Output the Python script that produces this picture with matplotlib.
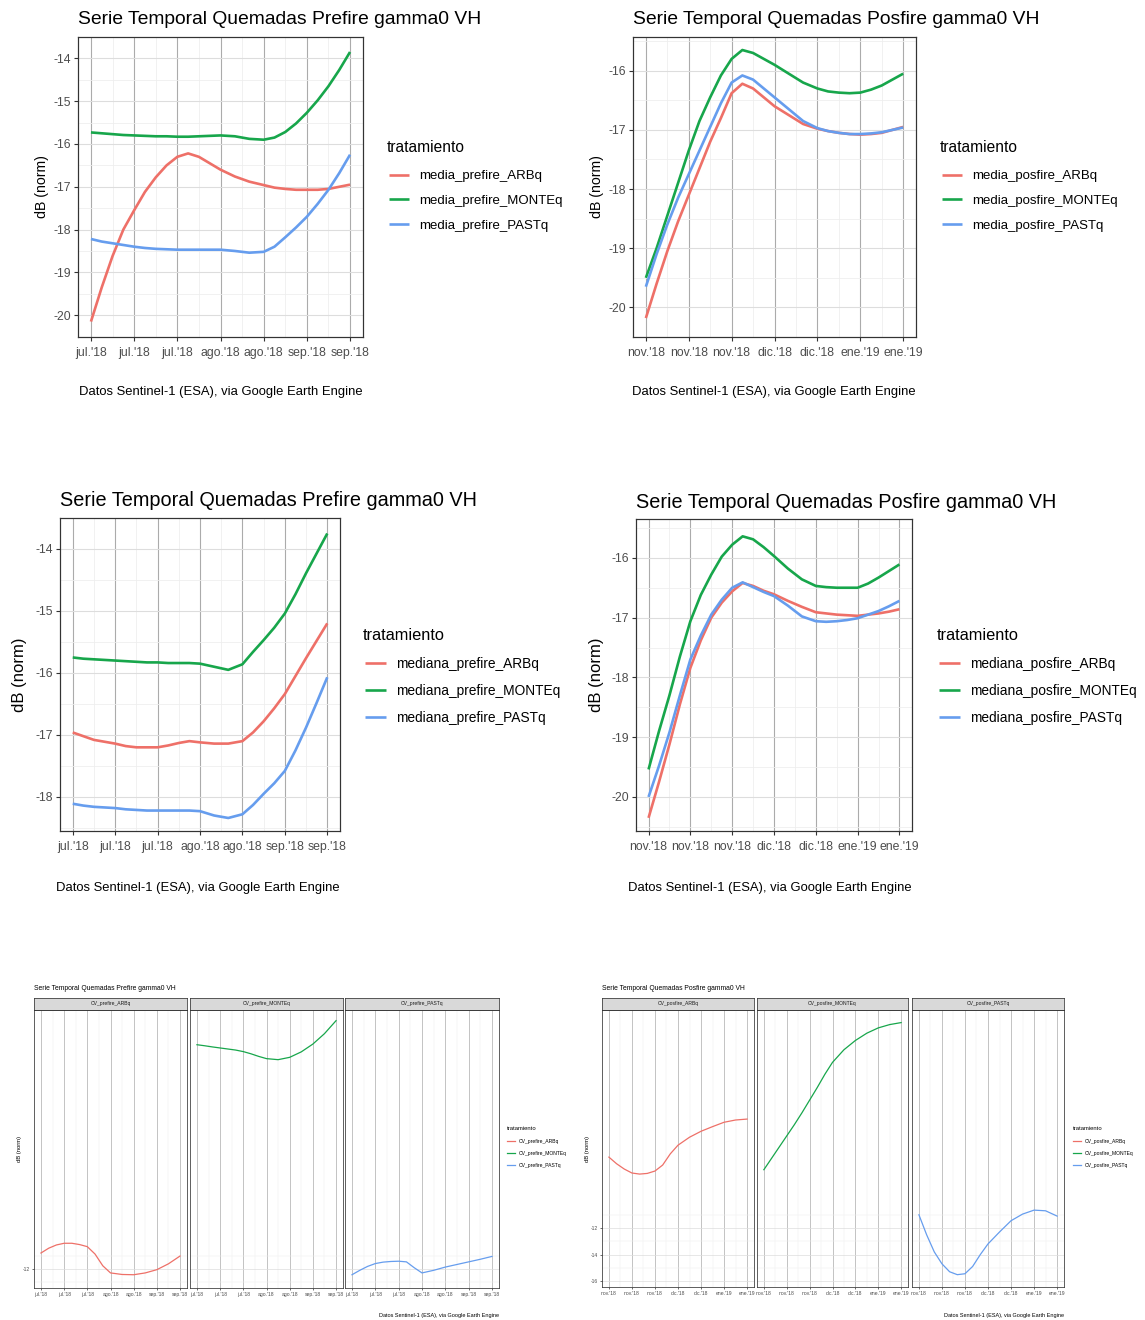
import matplotlib.pyplot as plt

plt.rcParams['font.family'] = ['Liberation Sans', 'DejaVu Sans']

W, H = 1145, 1320

COLORS = ['#EE7068', '#17A64B', '#669DEE']

# days since first tick (ticks every 12 days)
days = [0, 3, 6, 9, 12, 15, 18, 21, 24, 27, 30, 33, 36, 40, 44, 48, 51, 54, 57, 60, 63, 66, 69, 72]
days_cv = [0, 4, 8, 12, 16, 20, 24, 28, 32, 36, 42, 48, 54, 60, 66, 72]

prefire_ticks = ["jul.'18", "jul.'18", "jul.'18", "ago.'18", "ago.'18", "sep.'18", "sep.'18"]
posfire_ticks = ["nov.'18", "nov.'18", "nov.'18", "dic.'18", "dic.'18", "ene.'19", "ene.'19"]

media_prefire_ARBq = [-20.15, -19.35, -18.62, -18.0, -17.55, -17.12, -16.78, -16.5, -16.3, -16.22, -16.3, -16.45,
                      -16.6, -16.76, -16.88, -16.96, -17.02, -17.05, -17.07, -17.07, -17.07, -17.05, -17.0, -16.95]
media_prefire_MONTEq = [-15.73, -15.75, -15.77, -15.79, -15.8, -15.81, -15.82, -15.82, -15.83, -15.83, -15.82, -15.81,
                        -15.8, -15.82, -15.88, -15.9, -15.85, -15.72, -15.52, -15.27, -14.98, -14.65, -14.27, -13.85]
media_prefire_PASTq = [-18.22, -18.28, -18.32, -18.36, -18.4, -18.43, -18.45, -18.46, -18.47, -18.47, -18.47, -18.47,
                       -18.47, -18.5, -18.54, -18.52, -18.4, -18.18, -17.95, -17.7, -17.4, -17.07, -16.68, -16.25]

media_posfire_ARBq = [-20.18, -19.6, -19.05, -18.55, -18.1, -17.65, -17.2, -16.8, -16.38, -16.22, -16.3, -16.45,
                      -16.6, -16.75, -16.9, -16.98, -17.02, -17.05, -17.07, -17.08, -17.07, -17.05, -17.0, -16.95]
media_posfire_MONTEq = [-19.5, -19.0, -18.45, -17.9, -17.35, -16.85, -16.45, -16.08, -15.8, -15.65, -15.7, -15.8,
                        -15.9, -16.05, -16.2, -16.3, -16.35, -16.37, -16.38, -16.37, -16.32, -16.25, -16.15, -16.05]
media_posfire_PASTq = [-19.65, -19.1, -18.6, -18.15, -17.75, -17.35, -16.95, -16.55, -16.2, -16.08, -16.15, -16.3,
                       -16.45, -16.65, -16.85, -16.97, -17.02, -17.05, -17.07, -17.07, -17.06, -17.04, -17.0, -16.96]

mediana_prefire_ARBq = [-16.96, -17.02, -17.08, -17.11, -17.14, -17.18, -17.2, -17.2, -17.2, -17.17, -17.13, -17.1,
                        -17.12, -17.14, -17.14, -17.1, -16.96, -16.78, -16.57, -16.34, -16.05, -15.76, -15.48, -15.2]
mediana_prefire_MONTEq = [-15.75, -15.77, -15.78, -15.79, -15.8, -15.81, -15.82, -15.83, -15.83, -15.84, -15.84, -15.84,
                          -15.85, -15.9, -15.95, -15.86, -15.66, -15.47, -15.27, -15.04, -14.73, -14.39, -14.07, -13.75]
mediana_prefire_PASTq = [-18.11, -18.14, -18.16, -18.17, -18.18, -18.2, -18.21, -18.22, -18.22, -18.22, -18.22, -18.22,
                         -18.23, -18.3, -18.34, -18.28, -18.13, -17.95, -17.78, -17.58, -17.25, -16.88, -16.48, -16.07]

mediana_posfire_ARBq = [-20.35, -19.75, -19.12, -18.45, -17.84, -17.38, -17.0, -16.75, -16.56, -16.42, -16.47, -16.55,
                        -16.61, -16.72, -16.82, -16.91, -16.93, -16.95, -16.96, -16.97, -16.95, -16.93, -16.9, -16.86]
mediana_posfire_MONTEq = [-19.54, -18.9, -18.3, -17.65, -17.06, -16.62, -16.28, -15.98, -15.78, -15.64, -15.69, -15.82,
                          -15.97, -16.18, -16.36, -16.47, -16.49, -16.5, -16.5, -16.5, -16.43, -16.33, -16.22, -16.11]
mediana_posfire_PASTq = [-20.0, -19.48, -18.92, -18.3, -17.7, -17.3, -16.95, -16.7, -16.5, -16.41, -16.49, -16.57,
                         -16.64, -16.8, -16.98, -17.06, -17.07, -17.06, -17.04, -17.01, -16.95, -16.89, -16.81, -16.72]

CV_prefire_ARBq = [-10.77, -10.4, -10.15, -10.02, -10.02, -10.12, -10.28, -10.85, -11.75, -12.3, -12.42, -12.44,
                   -12.3, -12.05, -11.6, -11.0]
CV_prefire_MONTEq = [5.25, 5.17, 5.08, 5.0, 4.92, 4.84, 4.72, 4.55, 4.35, 4.18, 4.1, 4.28, 4.7, 5.3, 6.1, 7.1]
CV_prefire_PASTq = [-12.44, -12.1, -11.8, -11.58, -11.47, -11.42, -11.4, -11.45, -11.9, -12.3, -12.1, -11.85,
                    -11.65, -11.45, -11.25, -11.03]

CV_posfire_ARBq = [-6.65, -7.15, -7.55, -7.85, -7.93, -7.88, -7.7, -7.25, -6.4, -5.75, -5.15, -4.7, -4.35, -4.02,
                   -3.85, -3.78]
CV_posfire_MONTEq = [-7.6, -6.75, -5.9, -5.05, -4.2, -3.3, -2.35, -1.4, -0.4, 0.5, 1.45, 2.15, 2.7, 3.1, 3.35, 3.5]
CV_posfire_PASTq = [-11.0, -12.5, -13.8, -14.7, -15.3, -15.52, -15.45, -14.9, -14.0, -13.2, -12.3, -11.45, -10.95,
                    -10.65, -10.7, -11.1]

TITLE_PRE = "Serie Temporal Quemadas Prefire gamma0 VH"
TITLE_POS = "Serie Temporal Quemadas Posfire gamma0 VH"
CAPTION = "Datos Sentinel-1 (ESA), via Google Earth Engine"

fig = plt.figure(figsize=(W / 100, H / 100), dpi=100)


def px_axes(l, t, r, b):
    return fig.add_axes([l / W, 1 - b / H, (r - l) / W, (b - t) / H])


def fx(x):
    return x / W


def fy(y):
    return 1 - y / H


def dress(ax, ylim, yticks, yminor, xlabels, tick_fs, lw, tick_len, pad):
    ax.set_xlim(-3.6, 75.6)
    ax.set_ylim(*ylim)
    ax.set_xticks(range(0, 73, 12))
    ax.set_xticklabels(xlabels)
    ax.set_xticks(range(6, 73, 12), minor=True)
    ax.set_yticks(yticks)
    ax.set_yticklabels([str(v) for v in yticks])
    ax.set_yticks(yminor, minor=True)
    ax.grid(axis='x', which='major', color='#ababab', lw=lw)
    ax.grid(axis='y', which='major', color='#dddddd', lw=lw)
    ax.grid(which='minor', color='#eeeeee', lw=lw * 0.7)
    ax.set_axisbelow(True)
    ax.tick_params(which='minor', length=0)
    ax.tick_params(which='major', labelsize=tick_fs, color='#333333', labelcolor='#4d4d4d',
                   width=lw, length=tick_len, pad=pad)
    for s in ax.spines.values():
        s.set_color('#333333')
        s.set_linewidth(lw * 1.1)


def big_panel(box, series, names, ylim, yticks, xlabels, title, title_fs, ylab_x, ylab_fs,
              cap_y, leg_x, leg_y, leg_fs, leg_title_fs, xlab_fs, xpad):
    l, t, r, b = box
    ax = px_axes(l, t, r, b)
    handles = []
    for vals, c in zip(series, COLORS):
        h, = ax.plot(days, vals, color=c, lw=1.9, solid_capstyle='butt')
        handles.append(h)
    yminor = [v + 0.5 for v in range(min(yticks) - 1, max(yticks) + 1)]
    dress(ax, ylim, yticks, yminor, xlabels, xlab_fs, 0.8, 3, 2)
    ax.tick_params(axis='x', pad=xpad)
    fig.text(fx(l), fy(t - 17), title, fontsize=title_fs, ha='left', va='center', color='black')
    fig.text(fx(ylab_x), fy((t + b) / 2), "dB (norm)", rotation=90, fontsize=ylab_fs,
             ha='center', va='center', color='black')
    fig.text(fx(r), fy(cap_y), CAPTION, fontsize=9.4, ha='right', va='center', color='black')
    fig.text(fx(leg_x), fy(leg_y), "tratamiento", fontsize=leg_title_fs, ha='left', va='center')
    fig.legend(handles, names, loc='upper left', bbox_to_anchor=(fx(leg_x + 2), fy(leg_y + 22)),
               frameon=False, fontsize=leg_fs, handlelength=1.5, handletextpad=0.75,
               labelspacing=0.95, borderpad=0, borderaxespad=0)


def cv_block(lefts, rights, top, bottom, series, names, ylim, yticks, yminor, xlabels, title,
             ylab_x, leg_x):
    handles = []
    for i, (l, r) in enumerate(zip(lefts, rights)):
        ax = px_axes(l, top, r, bottom)
        h, = ax.plot(days_cv, series[i], color=COLORS[i], lw=0.9)
        handles.append(h)
        dress(ax, ylim, yticks, yminor, xlabels, 3.6, 0.5, 1.5, 1.5)
        if i > 0:
            ax.set_yticklabels([])
            ax.tick_params(axis='y', length=0)
        strip = px_axes(l, top - 12, r, top)
        strip.set_facecolor('#d9d9d9')
        strip.set_xticks([])
        strip.set_yticks([])
        for s in strip.spines.values():
            s.set_color('#333333')
            s.set_linewidth(0.55)
        strip.text(0.5, 0.5, names[i], ha='center', va='center', fontsize=3.6, color='#1a1a1a',
                   transform=strip.transAxes)
    fig.text(fx(lefts[0]), fy(988), title, fontsize=4.9, ha='left', va='center')
    fig.text(fx(ylab_x), fy((top + bottom) / 2), "dB (norm)", rotation=90, fontsize=4.2,
             ha='center', va='center')
    fig.text(fx(rights[-1]), fy(1315), CAPTION, fontsize=4.0, ha='right', va='center')
    fig.text(fx(leg_x), fy(1129), "tratamiento", fontsize=4.2, ha='left', va='center')
    fig.legend(handles, names, loc='upper left', bbox_to_anchor=(fx(leg_x), fy(1139)),
               frameon=False, fontsize=3.6, handlelength=1.6, handletextpad=0.7,
               labelspacing=1.4, borderpad=0, borderaxespad=0)


# media
big_panel((78, 37, 363, 337), [media_prefire_ARBq, media_prefire_MONTEq, media_prefire_PASTq],
          ['media_prefire_ARBq', 'media_prefire_MONTEq', 'media_prefire_PASTq'],
          (-20.51, -13.53), [-20, -19, -18, -17, -16, -15, -14], prefire_ticks, TITLE_PRE, 13.9,
          42, 10.2, 392, 387, 148, 9.5, 11.2, 8.8, 4.5)
big_panel((633, 37, 916, 337), [media_posfire_ARBq, media_posfire_MONTEq, media_posfire_PASTq],
          ['media_posfire_ARBq', 'media_posfire_MONTEq', 'media_posfire_PASTq'],
          (-20.43, -15.43), [-20, -19, -18, -17, -16], posfire_ticks, TITLE_POS, 13.9,
          597, 10.2, 392, 940, 148, 9.5, 11.2, 8.8, 4.5)

# mediana
big_panel((60, 518, 340, 831), [mediana_prefire_ARBq, mediana_prefire_MONTEq, mediana_prefire_PASTq],
          ['mediana_prefire_ARBq', 'mediana_prefire_MONTEq', 'mediana_prefire_PASTq'],
          (-18.55, -13.5), [-18, -17, -16, -15, -14], prefire_ticks, TITLE_PRE, 14.3,
          20, 12.0, 888, 363, 635, 9.9, 11.8, 8.8, 4)
big_panel((636, 519, 912, 831), [mediana_posfire_ARBq, mediana_posfire_MONTEq, mediana_posfire_PASTq],
          ['mediana_posfire_ARBq', 'mediana_posfire_MONTEq', 'mediana_posfire_PASTq'],
          (-20.57, -15.35), [-20, -19, -18, -17, -16], posfire_ticks, TITLE_POS, 14.3,
          597, 12.0, 888, 937, 635, 9.9, 11.8, 8.8, 4)

# coeficiente de variacion, facetas
cv_block([34, 190, 345], [187, 343, 499], 1010, 1288,
         [CV_prefire_ARBq, CV_prefire_MONTEq, CV_prefire_PASTq],
         ['CV_prefire_ARBq', 'CV_prefire_MONTEq', 'CV_prefire_PASTq'],
         (-13.46, 7.92), [-12], [-13, -11], prefire_ticks, TITLE_PRE, 20, 507)
cv_block([602, 757, 912], [754, 908, 1064], 1010, 1287,
         [CV_posfire_ARBq, CV_posfire_MONTEq, CV_posfire_PASTq],
         ['CV_posfire_ARBq', 'CV_posfire_MONTEq', 'CV_posfire_PASTq'],
         (-16.45, 4.45), [-16, -14, -12], [-15, -13, -11], posfire_ticks, TITLE_POS, 587, 1073)

fig.savefig('out.png', dpi=100, facecolor='white')
